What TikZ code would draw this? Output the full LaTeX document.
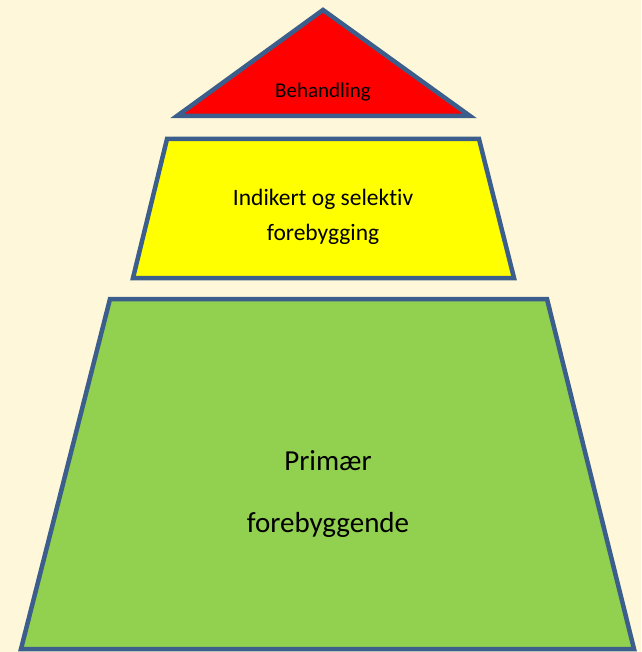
\documentclass[tikz,border=0pt]{standalone}
\usepackage{fontspec}
\setmainfont[Ligatures=NoCommon]{Carlito}
\usepackage{xcolor}
\usetikzlibrary{positioning}
\definecolor{cream}{HTML}{FFF7D9}
\definecolor{edgeblue}{HTML}{3B5E8C}
\definecolor{topred}{HTML}{FF0000}
\definecolor{midyellow}{HTML}{FFFF00}
\definecolor{basegreen}{HTML}{92D050}

\begin{document}
\begin{tikzpicture}[x=1pt,y=-1pt,
		layer/.style={draw=edgeblue, line width=4.5pt, line join=miter},
		lbl/.style={anchor=base, text=black, inner sep=0pt}]
		\useasboundingbox[fill=cream] (0,0) rectangle (641,652);
		
		% top: behandling
		\draw[layer, fill=topred] (323,10) -- (470,116) -- (177,116) -- cycle;
		\node[lbl, font=\fontsize{21}{25}\selectfont] (beh) at (323,98) {Behandling};
		
		% middle: indikert og selektiv
		\draw[layer, fill=midyellow] (167,139) -- (479,139) -- (514,278) -- (133,278) -- cycle;
		\node[lbl, font=\fontsize{23.5}{28}\selectfont] (sel1) at (323,206) {Indikert og selektiv};
		\node[lbl, font=\fontsize{23.5}{28}\selectfont] (sel2) at (323,240) {forebygging};
		
		% bottom: primær
		\draw[layer, fill=basegreen] (110,299) -- (547,299) -- (634,649) -- (21,649) -- cycle;
		\node[lbl, font=\fontsize{29}{34}\selectfont] (prim1) at (328,470) {Primær};
		\node[lbl, font=\fontsize{29}{34}\selectfont] (prim2) at (328,532) {forebyggende};
	\end{tikzpicture}
\end{document}
